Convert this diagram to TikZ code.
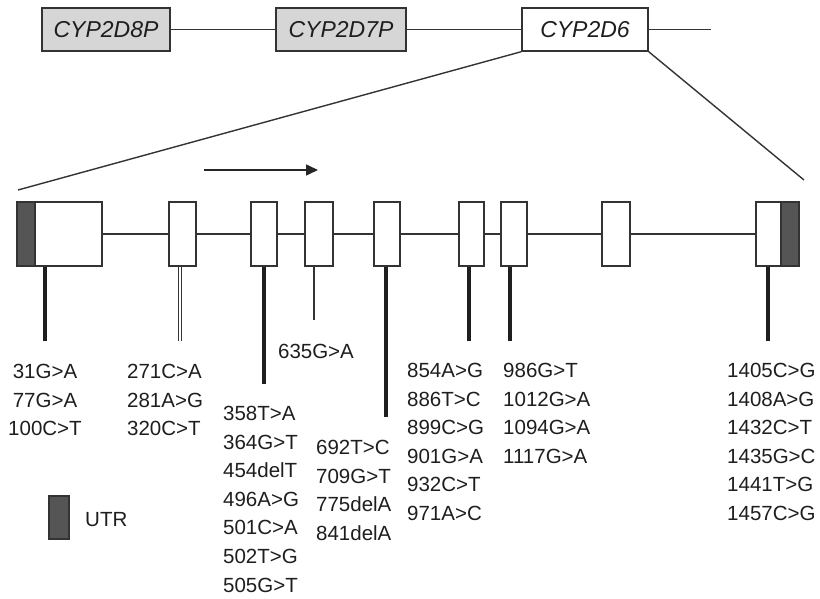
\documentclass[tikz,border=0pt]{standalone}
\usepackage{fontspec}
\setmainfont{Liberation Sans}
\usetikzlibrary{arrows.meta}
\definecolor{linegray}{HTML}{333333}
\definecolor{utrgray}{HTML}{555555}
\definecolor{pseudo}{HTML}{D6D6D6}
\definecolor{txt}{HTML}{1E1E1E}
\begin{document}
\begin{tikzpicture}[x=1pt,y=-1pt,
  gene/.style={draw=linegray, line width=1.4pt, minimum height=43pt, inner sep=0pt,
    font=\fontsize{23}{27}\selectfont\itshape, text=txt},
  exon/.style={draw=linegray, line width=1.3pt, fill=white, minimum height=64pt, inner sep=0pt},
  utr/.style={draw=linegray, line width=1.3pt, fill=utrgray, minimum height=64pt, inner sep=0pt},
  backbone/.style={draw=linegray, line width=1.3pt},
  zoomline/.style={draw=linegray, line width=1.4pt},
  stalk/.style={draw=black!88, line width=4pt},
  thinstalk/.style={draw=linegray, line width=1.4pt},
  dblstalk/.style={draw=linegray, double=white, double distance=2.6pt, line width=1pt},
  var/.style={font=\fontsize{20.5}{28.6}\selectfont, text=txt, inner sep=0pt, align=left},
  dirarrow/.style={draw=black!85, line width=1.6pt, -{Triangle[length=12pt,width=11pt]}}
]
\useasboundingbox (0,0) rectangle (820,599);

% top: gene cluster
\node[gene, fill=pseudo, minimum width=128pt] (g1) at (106,29.5) {CYP2D8P};
\node[gene, fill=pseudo, minimum width=130pt] (g2) at (341,29.5) {CYP2D7P};
\node[gene, fill=white, minimum width=126pt] (g3) at (585,29.5) {CYP2D6};
\coordinate (gend) at (711,29.5);
\draw[backbone] (g1.east) -- (g2.west) (g2.east) -- (g3.west) (g3.east) -- (gend);

% zoom lines
\coordinate (zl) at (18,190);
\coordinate (zr) at (804,180);
\draw[zoomline] (g3.south west) -- (zl);
\draw[zoomline] (g3.south east) -- (zr);

% transcription direction
\coordinate (a1) at (204,170);
\coordinate (a2) at (318,170);
\draw[dirarrow] (a1) -- (a2);

% exons
\node[exon, minimum width=85pt] (e1) at (59.5,234) {};
\node[exon, minimum width=27pt] (e2) at (182.5,234) {};
\node[exon, minimum width=26pt] (e3) at (264,234) {};
\node[exon, minimum width=28pt] (e4) at (319,234) {};
\node[exon, minimum width=26pt] (e5) at (387,234) {};
\node[exon, minimum width=25pt] (e6) at (471.5,234) {};
\node[exon, minimum width=26pt] (e7) at (514,234) {};
\node[exon, minimum width=28pt] (e8) at (616,234) {};
\node[exon, minimum width=43pt] (e9) at (777.5,234) {};
\node[utr, minimum width=18pt, anchor=west] (u1) at (e1.west) {};
\node[utr, minimum width=18pt, anchor=east] (u9) at (e9.east) {};
\draw[backbone] (e1.east) -- (e2.west) (e2.east) -- (e3.west) (e3.east) -- (e4.west)
  (e4.east) -- (e5.west) (e5.east) -- (e6.west) (e6.east) -- (e7.west)
  (e7.east) -- (e8.west) (e8.east) -- (e9.west);

% variant stalks
\coordinate (s1) at (45,341);
\coordinate (s2) at (180,341);
\coordinate (s3) at (264,384);
\coordinate (s4) at (314,320);
\coordinate (s5) at (386,417);
\coordinate (s6) at (469,341);
\coordinate (s7) at (510,341);
\coordinate (s9) at (768,341);
\draw[stalk] (s1 |- e1.south) -- (s1);
\draw[dblstalk] (s2 |- e2.south) -- (s2);
\draw[stalk] (s3 |- e3.south) -- (s3);
\draw[thinstalk] (s4 |- e4.south) -- (s4);
\draw[stalk] (s5 |- e5.south) -- (s5);
\draw[stalk] (s6 |- e6.south) -- (s6);
\draw[stalk] (s7 |- e7.south) -- (s7);
\draw[stalk] (s9 |- e9.south) -- (s9);

% variant labels
\node[var, align=center, anchor=north] (v1) at (45,364) {31G>A\\77G>A\\100C>T};
\node[var, anchor=north west] (v2) at (127,364) {271C>A\\281A>G\\320C>T};
\node[var, anchor=north] (v4) at (316,344) {635G>A};
\node[var, anchor=north west] (v3) at (223,406) {358T>A\\364G>T\\454delT\\496A>G\\501C>A\\502T>G\\505G>T};
\node[var, anchor=north west] (v5) at (316,440) {692T>C\\709G>T\\775delA\\841delA};
\node[var, anchor=north west] (v6) at (407,363) {854A>G\\886T>C\\899C>G\\901G>A\\932C>T\\971A>C};
\node[var, anchor=north west] (v7) at (503,363) {986G>T\\1012G>A\\1094G>A\\1117G>A};
\node[var, anchor=north west] (v9) at (727,363) {1405C>G\\1408A>G\\1432C>T\\1435G>C\\1441T>G\\1457C>G};

% legend
\node[utr, minimum width=20pt, minimum height=43pt] (leg) at (59,517.5) {};
\node[var, anchor=west] (legt) at (85,520) {UTR};
\end{tikzpicture}
\end{document}
